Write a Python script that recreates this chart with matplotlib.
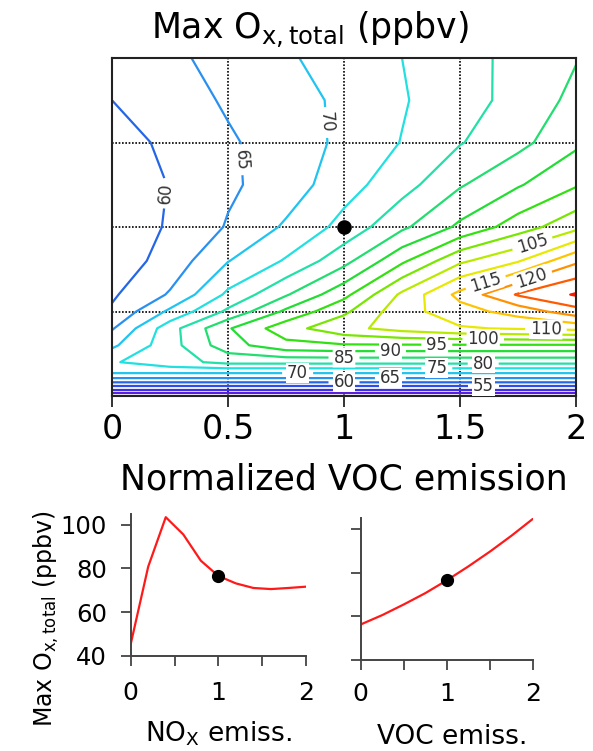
"""Max Ox,total isopleths vs. normalized VOC / NOx emission, plus the two
one-at-a-time cuts through the base case (1, 1). Writes out.png."""

import matplotlib
import numpy as np

matplotlib.use("Agg")
import matplotlib.pyplot as plt

plt.rcParams["font.family"] = "DejaVu Sans"
plt.rcParams["mathtext.default"] = "regular"

# --- contour field (ppbv) ---------------------------------------------------
VOC_GRID = [0.0, 0.25, 0.5, 0.75, 1.0, 1.25, 1.5, 1.75, 2.0]
NOX_GRID = [0.0, 0.05, 0.1, 0.15, 0.2, 0.3, 0.4, 0.5, 0.6, 0.8,
            1.0, 1.25, 1.5, 1.75, 2.0]
# one row per NOx value, columns follow VOC_GRID
OX_TOTAL = [
    [39.5, 39.5, 39.5, 39.5, 39.5, 39.5, 39.5, 39.5, 39.5],
    [53.5, 53.5, 53.5, 53.5, 53.5, 53.5, 53.5, 53.5, 53.5],
    [64.0, 64.0, 64.0, 64.0, 64.0, 64.0, 64.0, 64.0, 64.0],
    [72.5, 72.5, 72.5, 72.5, 72.5, 72.5, 72.5, 72.5, 72.5],
    [74.5, 78.0, 81.5, 81.5, 81.5, 81.5, 81.5, 81.5, 81.5],
    [69.0, 78.0, 88.0, 93.5, 94.5, 94.5, 94.5, 94.5, 94.5],
    [64.5, 78.0, 89.5, 98.0, 103.5, 107.0, 109.5, 110.5, 111.5],
    [60.7, 71.0, 81.0, 91.0, 99.0, 108.0, 113.0, 117.0, 123.0],
    [59.3, 65.5, 76.0, 84.5, 93.5, 106.0, 116.5, 125.5, 130.5],
    [57.0, 62.0, 69.8, 75.5, 83.3, 94.0, 104.0, 109.5, 119.0],
    [56.3, 60.6, 65.4, 70.7, 76.6, 84.0, 91.0, 97.5, 103.5],
    [56.5, 60.2, 64.2, 67.3, 73.0, 78.0, 84.5, 89.5, 94.5],
    [58.0, 61.0, 64.3, 67.5, 71.0, 75.2, 79.7, 83.5, 89.0],
    [60.0, 62.3, 65.7, 68.0, 71.0, 74.5, 78.5, 81.2, 86.5],
    [61.3, 64.0, 66.7, 69.4, 72.0, 75.0, 78.2, 81.4, 84.7],
]
LEVELS = list(range(45, 131, 5))
LEVEL_COLORS = [
    "#5a1fd6", "#3b30e8", "#2b4cf0", "#2466e6", "#2a90f0", "#20c4f0",
    "#22e0e0", "#22e0a8", "#22dd70", "#22dd33", "#33e011", "#77e600",
    "#b8ea00", "#e8e800", "#ffc400", "#ff9200", "#ff5a00", "#ff1a00",
]
# where the inline labels sit, (VOC, NOx) in data units
LABEL_SPOTS = [
    (0.237, 1.20), (0.586, 1.40), (0.94, 1.62),
    (1.81, 0.91), (1.61, 0.675), (1.81, 0.70),
    (1.87, 0.40), (1.60, 0.325), (1.40, 0.30),
    (1.20, 0.266), (1.00, 0.23), (1.60, 0.183),
    (1.40, 0.166), (0.80, 0.136), (1.20, 0.107),
    (1.00, 0.077), (1.60, 0.053),
]

# --- cuts through the base case ---------------------------------------------
NOX_EMISS = [0.0, 0.2, 0.4, 0.6, 0.8, 1.0, 1.2, 1.4, 1.6, 1.8, 2.0]
OX_VS_NOX = [45.3, 80.8, 103.4, 95.5, 83.5, 76.5, 73.1, 71.0, 70.5, 71.0, 71.6]
VOC_EMISS = [0.0, 0.25, 0.5, 0.75, 1.0, 1.25, 1.5, 1.75, 2.0]
OX_VS_VOC = [56.3, 60.6, 65.5, 70.7, 76.6, 83.0, 89.8, 97.1, 104.9]
BASE_VOC, BASE_NOX = 1.0, 1.0
OX_BASE_NOXCUT = 76.5
OX_BASE_VOCCUT = 76.6

SPINE = "#222222"
SPINE_SMALL = "#444444"
LINE = "#ff1a1a"
W, H = 593, 751


def px_axes(left, top, right, bottom):
    """Figure-fraction rect from pixel edges of the 593x751 canvas."""
    return [left / W, 1 - bottom / H, (right - left) / W, (bottom - top) / H]


def px_text(fig, x, y, s, **kw):
    """Text anchored at pixel position (x, y) measured from the top left."""
    return fig.text(x / W, 1 - y / H, s, **kw)


def main() -> None:
    fig = plt.figure(figsize=(W / 100, H / 100), dpi=100)

    # Isopleth panel
    ax = fig.add_axes(px_axes(112, 58, 576, 396))
    cs = ax.contour(VOC_GRID, NOX_GRID, np.array(OX_TOTAL), levels=LEVELS,
                    colors=LEVEL_COLORS, linewidths=1.6)
    texts = ax.clabel(cs, manual=LABEL_SPOTS, inline=True, fmt="%d",
                      fontsize=12, colors="#333333")
    for t in texts:
        t.set_bbox(dict(facecolor="white", edgecolor="none", pad=0.6))
    ax.plot(BASE_VOC, BASE_NOX, "o", color="black", ms=9.5, zorder=6)

    ax.set_xlim(0, 2)
    ax.set_ylim(0, 2)
    ax.set_xticks([0, 0.5, 1, 1.5, 2], ["0", "0.5", "1", "1.5", "2"])
    ax.set_yticks([0.5, 1, 1.5])
    ax.grid(True, color="black", linestyle=(0, (1, 1)), linewidth=1.2)
    ax.tick_params(axis="y", length=0, labelleft=False)
    ax.tick_params(axis="x", direction="out", length=8, width=1.3,
                   labelsize=24, pad=4.5, color=SPINE)
    for s in ax.spines.values():
        s.set_linewidth(1.5)
        s.set_color(SPINE)
    px_text(fig, 344, 489, "Normalized VOC emission", fontsize=25,
            ha="center", va="baseline")
    px_text(fig, 310, 38.5, "Max O$_{x,total}$ (ppbv)", fontsize=25,
            ha="center", va="baseline")

    # One-at-a-time cuts
    ax_nox = fig.add_axes(px_axes(130.7, 513.7, 306, 655.7))
    ax_voc = fig.add_axes(px_axes(360.7, 518.3, 533.3, 660))

    ax_nox.plot(NOX_EMISS, OX_VS_NOX, color=LINE, lw=1.6)
    ax_nox.plot(BASE_NOX, OX_BASE_NOXCUT, "o", color="black", ms=8.5,
                zorder=5)
    ax_voc.plot(VOC_EMISS, OX_VS_VOC, color=LINE, lw=1.6)
    ax_voc.plot(BASE_VOC, OX_BASE_VOCCUT, "o", color="black", ms=8.5,
                zorder=5)

    for a in (ax_nox, ax_voc):
        a.set_xlim(0, 2)
        a.set_ylim(40, 105)
        a.set_xticks([0, 1, 2])
        a.set_xticks([0.5, 1.5], minor=True)
        a.set_yticks([40, 60, 80, 100])
        a.spines[["top", "right"]].set_visible(False)
        for side in ("left", "bottom"):
            a.spines[side].set_linewidth(1.4)
            a.spines[side].set_color(SPINE_SMALL)
        a.tick_params(which="both", direction="out", length=7, width=1.3,
                      color=SPINE_SMALL)
        a.tick_params(axis="y", labelsize=17.5, pad=10)
    ax_nox.tick_params(axis="x", labelsize=18, pad=11)
    ax_voc.tick_params(axis="x", labelsize=18, pad=8.5)
    ax_voc.tick_params(axis="y", labelleft=False)

    px_text(fig, 218, 742, "NO$_X$ emiss.", fontsize=19, ha="center",
            va="baseline")
    px_text(fig, 452, 744, "VOC emiss.", fontsize=19, ha="center",
            va="baseline")
    px_text(fig, 46, 619, "Max O$_{x,total}$ (ppbv)", fontsize=17,
            rotation=90, ha="center", va="center")

    fig.savefig("out.png", dpi=100)


if __name__ == "__main__":
    main()
